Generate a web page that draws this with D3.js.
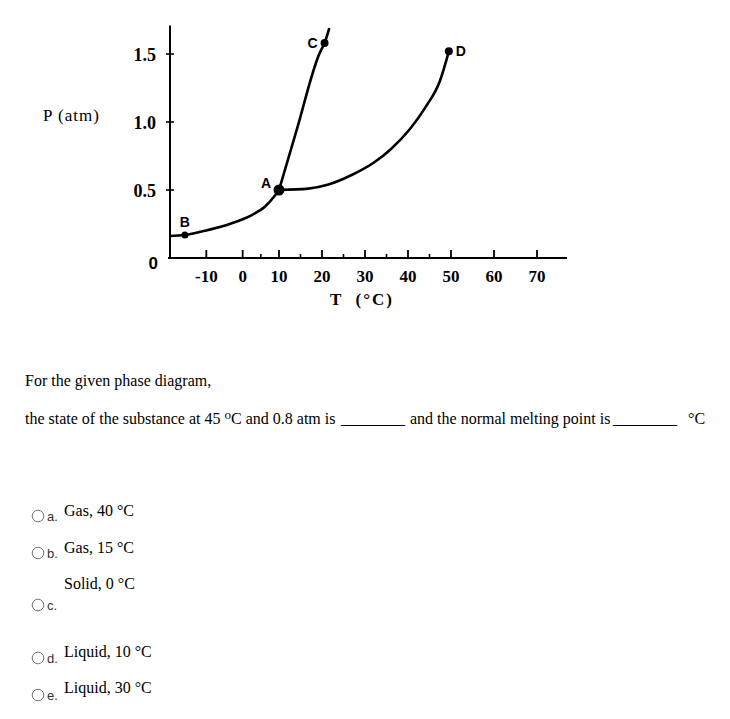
<!DOCTYPE html>
<html>
<head>
<meta charset="utf-8">
<script src="https://cdn.jsdelivr.net/npm/d3@7/dist/d3.min.js"></script>
<style>
  html, body { margin: 0; padding: 0; background: #fff; }
  svg { display: block; }
</style>
</head>
<body>
<script>
// ---- data ----
const sublimationT = [-20, -15.9, -10.4, -3, 2.5, 6.1, 8.9, 10];
const sublimationP = [0.162, 0.169, 0.20, 0.255, 0.316, 0.377, 0.46, 0.5];
const meltingT = [10, 14.1, 19.5, 20.6, 21.7];
const meltingP = [0.5, 0.94, 1.51, 1.58, 1.69];
const vaporT = [10, 16.8, 21.5, 26.9, 32, 36, 40.5, 44.3, 47.4, 49.5];
const vaporP = [0.5, 0.51, 0.54, 0.61, 0.70, 0.80, 0.95, 1.12, 1.30, 1.52];
const pointNames = ["A", "B", "C", "D"];
const pointT = [10, -15.9, 20.6, 49.5];
const pointP = [0.5, 0.169, 1.58, 1.52];
const xTicks = [-10, 0, 10, 20, 30, 40, 50, 60, 70];
const xMinorTicks = [5, 15, 25, 35, 45];
const yTicks = [0.5, 1.0, 1.5];
const yTickLabels = ["0.5", "1.0", "1.5"];
const optionLetters = ["a.", "b.", "c.", "d.", "e."];
const optionTexts = ["Gas, 40 °C", "Gas, 15 °C", "Solid, 0 °C", "Liquid, 10 °C", "Liquid, 30 °C"];

// ---- layout ----
const W = 730, H = 719;
const svg = d3.select("body").append("svg").attr("width", W).attr("height", H);

const x = d3.scaleLinear().domain([-20, 10, 70]).range([170, 279, 537]);
const y = d3.scaleLinear().domain([0, 1.5]).range([258, 54]);

const serif = "'Liberation Serif', 'Times New Roman', serif";
const sans = "'Liberation Sans', Arial, sans-serif";

const g = svg.append("g");

// axes lines
g.append("line").attr("x1", x(-20) - 2).attr("x2", 567).attr("y1", y(0)).attr("y2", y(0))
  .attr("stroke", "#000").attr("stroke-width", 2.2);
g.append("line").attr("x1", x(-20)).attr("x2", x(-20)).attr("y1", y(0)).attr("y2", y(1.71))
  .attr("stroke", "#000").attr("stroke-width", 2);

// x major ticks
g.selectAll(".xt").data(xTicks).enter().append("line")
  .attr("x1", d => x(d)).attr("x2", d => x(d)).attr("y1", y(0)).attr("y2", y(0) - 8)
  .attr("stroke", "#000").attr("stroke-width", 1.8);
g.selectAll(".xm").data(xMinorTicks).enter().append("line")
  .attr("x1", d => x(d)).attr("x2", d => x(d)).attr("y1", y(0)).attr("y2", y(0) - 4)
  .attr("stroke", "#000").attr("stroke-width", 1.6);
g.selectAll(".xl").data(xTicks).enter().append("text")
  .attr("x", d => x(d)).attr("y", y(0) + 24)
  .attr("text-anchor", "middle").attr("font-family", serif).attr("font-weight", "bold")
  .attr("font-size", 17).text(d => d);

// y ticks
g.selectAll(".yt").data(yTicks).enter().append("line")
  .attr("x1", x(-20) - 4).attr("x2", x(-20) + 4).attr("y1", d => y(d)).attr("y2", d => y(d))
  .attr("stroke", "#000").attr("stroke-width", 1.6);
g.selectAll(".yl").data(yTicks).enter().append("text")
  .attr("x", x(-20) - 14).attr("y", d => y(d) + 7)
  .attr("text-anchor", "end").attr("font-family", serif).attr("font-weight", "bold")
  .attr("font-size", 18).text((d, i) => yTickLabels[i]);
g.append("text").attr("x", x(-20) - 12).attr("y", y(0) + 11)
  .attr("text-anchor", "end").attr("font-family", sans).attr("font-weight", "bold")
  .attr("font-size", 17).text("0");

// axis titles
g.append("text").attr("x", 43).attr("y", 121).attr("font-family", serif)
  .attr("font-size", 17).attr("letter-spacing", 1).text("P (atm)");
g.append("text").attr("x", 362).attr("y", 305).attr("text-anchor", "middle")
  .attr("font-family", serif).attr("font-weight", "bold").attr("font-size", 17)
  .attr("letter-spacing", 2).attr("xml:space", "preserve").text("T  (°C)");

// curves
const line = d3.line().x(d => x(d[0])).y(d => y(d[1])).curve(d3.curveMonotoneX);
const curves = [
  d3.zip(sublimationT, sublimationP),
  d3.zip(meltingT, meltingP),
  d3.zip(vaporT, vaporP)
];
g.selectAll(".curve").data(curves).enter().append("path")
  .attr("d", line).attr("fill", "none").attr("stroke", "#000").attr("stroke-width", 2.6)
  .attr("stroke-linejoin", "round");

// points
const pts = pointNames.map((n, i) => ({ n, t: pointT[i], p: pointP[i] }));
const radius = { A: 5.5, B: 3.5, C: 4, D: 4 };
g.selectAll(".pt").data(pts).enter().append("circle")
  .attr("cx", d => x(d.t)).attr("cy", d => y(d.p)).attr("r", d => radius[d.n]).attr("fill", "#000");
const labelOffset = { A: [-8, -2, "end"], B: [0, -8, "middle"], C: [-7, 5, "end"], D: [7, 5, "start"] };
g.selectAll(".pl").data(pts).enter().append("text")
  .attr("x", d => x(d.t) + labelOffset[d.n][0]).attr("y", d => y(d.p) + labelOffset[d.n][1])
  .attr("text-anchor", d => labelOffset[d.n][2])
  .attr("font-family", sans).attr("font-weight", "bold").attr("font-size", 14).text(d => d.n);

// question text
const q = svg.append("g").attr("font-family", serif).attr("font-size", 16).attr("fill", "#000");
q.append("text").attr("x", 25).attr("y", 386).text("For the given phase diagram,");
const line2 = q.append("text").attr("x", 25).attr("y", 424).attr("xml:space", "preserve");
line2.append("tspan").text("the state of the substance at 45 ");
line2.append("tspan").attr("font-size", 13).attr("dy", -5).text("o");
line2.append("tspan").attr("dy", 5).text("C and 0.8 atm is");
line2.append("tspan").attr("x", 341).text("________");
line2.append("tspan").attr("x", 410).text("and the normal melting point is");
line2.append("tspan").attr("x", 613).text("________");
q.append("text").attr("x", 688).attr("y", 424).text("°C");

// options
const optY = [516, 553, 605, 658, 695];
const optTextY = [516, 553, 589, 657, 693];
const opts = svg.append("g");
optionLetters.forEach((l, i) => {
  opts.append("circle").attr("cx", 38).attr("cy", optY[i]).attr("r", 5.8)
    .attr("fill", "#fff").attr("stroke", "#767676").attr("stroke-width", 1);
  opts.append("text").attr("x", 47).attr("y", optY[i] + 4.5)
    .attr("font-family", sans).attr("font-size", 13).attr("fill", "#333").text(l);
  opts.append("text").attr("x", 64).attr("y", optTextY[i])
    .attr("font-family", serif).attr("font-size", 16).attr("fill", "#000").text(optionTexts[i]);
});
</script>
</body>
</html>
